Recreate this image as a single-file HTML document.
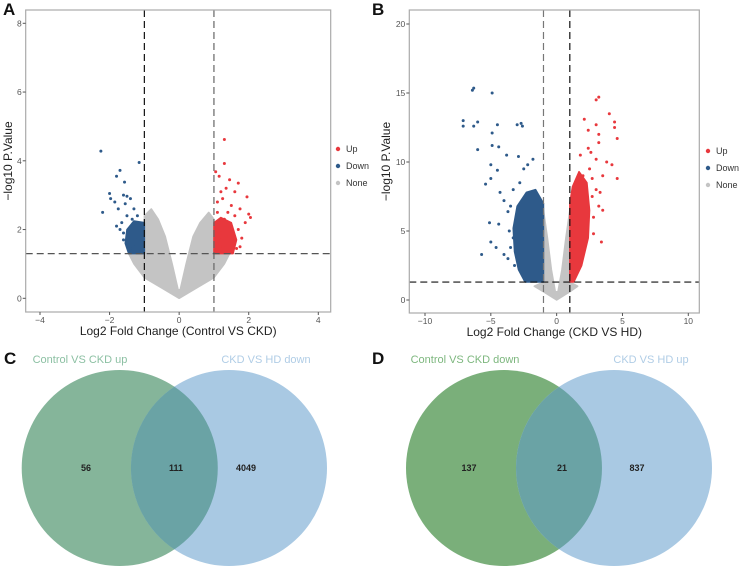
<!DOCTYPE html>
<html><head><meta charset="utf-8"><style>
body{margin:0;background:#fff;width:740px;height:569px;overflow:hidden;font-family:"Liberation Sans",Arial,sans-serif}
</style></head><body>
<svg id="svg" width="740" height="569" viewBox="0 0 740 569" xmlns="http://www.w3.org/2000/svg" font-family="Liberation Sans, Arial, sans-serif">
<g id="gA"></g>
<g id="gB"></g>
<g>
 <text x="4" y="364" font-size="17" font-weight="bold" fill="#111">C</text>
 <circle cx="119.7" cy="468" r="98" fill="#85b59a"/>
 <circle cx="229" cy="468" r="98" fill="#a9c9e3"/>
 <path d="M174.35 386.6 A98 98 0 0 1 174.35 549.4 A98 98 0 0 1 174.35 386.6Z" fill="#6aa3a5"/>
 <text x="80" y="363" font-size="11" text-anchor="middle" fill="#8cc0a3">Control VS CKD up</text>
 <text x="266" y="363" font-size="11" text-anchor="middle" fill="#b0cde6">CKD VS HD down</text>
 <text x="86" y="471" font-size="9" font-weight="bold" text-anchor="middle" fill="#222">56</text>
 <text x="176" y="471" font-size="9" font-weight="bold" text-anchor="middle" fill="#222">111</text>
 <text x="246" y="471" font-size="9" font-weight="bold" text-anchor="middle" fill="#222">4049</text>
</g>
<g>
 <text x="372" y="364" font-size="17" font-weight="bold" fill="#111">D</text>
 <circle cx="504" cy="468" r="98" fill="#7aaf7a"/>
 <circle cx="614" cy="468" r="98" fill="#a9c9e3"/>
 <path d="M559 386.9 A98 98 0 0 1 559 549.1 A98 98 0 0 1 559 386.9Z" fill="#6aa3a5"/>
 <text x="465" y="363" font-size="11" text-anchor="middle" fill="#7db77e">Control VS CKD down</text>
 <text x="651" y="363" font-size="11" text-anchor="middle" fill="#b0cde6">CKD VS HD up</text>
 <text x="469" y="471" font-size="9" font-weight="bold" text-anchor="middle" fill="#222">137</text>
 <text x="562" y="471" font-size="9" font-weight="bold" text-anchor="middle" fill="#222">21</text>
 <text x="637" y="471" font-size="9" font-weight="bold" text-anchor="middle" fill="#222">837</text>
</g>
</svg>
<script>
// Panel A data (log2FC, -log10 p)
const aXTicks=[-4,-2,0,2,4];
const aYTicks=[0,2,4,6,8];
const aNoneCloud=[[0,0],[-0.5,0.3],[-1.0,0.6],[-1.3,1.0],[-1.45,1.3],[-1.0,1.35],[-1.0,2.4],[-0.8,2.6],[-0.6,2.3],[-0.4,1.8],[-0.2,1.0],[-0.03,0.25],[0.03,0.25],[0.2,1.0],[0.4,1.8],[0.6,2.2],[0.85,2.5],[1.0,2.3],[1.0,1.35],[1.45,1.3],[1.3,1.0],[1.0,0.6],[0.5,0.3]];
const aDownCloud=[[-1,1.3],[-1.45,1.3],[-1.55,1.6],[-1.5,2.0],[-1.3,2.25],[-1.0,2.2]];
const aUpCloud=[[1,1.3],[1.55,1.3],[1.65,1.7],[1.5,2.2],[1.2,2.35],[1.0,2.2]];
const aDown=[[-2.25,4.28],[-1.15,3.95],[-1.7,3.72],[-1.8,3.55],[-1.57,3.38],[-2.0,3.05],[-1.97,2.9],[-1.6,3.0],[-1.5,2.97],[-2.2,2.5],[-1.85,2.8],[-1.75,2.6],[-1.55,2.75],[-1.4,2.9],[-1.3,2.6],[-1.2,2.4],[-1.65,2.2],[-1.8,2.1],[-1.5,2.4],[-1.35,2.3],[-1.7,2.0],[-1.6,1.9],[-1.45,1.8],[-1.25,1.9],[-1.1,2.1],[-1.5,1.6],[-1.3,1.5],[-1.2,1.7],[-1.1,1.4],[-1.4,1.45],[-1.6,1.7],[-1.05,1.8],[-1.15,1.55]];
const aUp=[[1.3,4.62],[1.3,3.92],[1.05,3.68],[1.15,3.55],[1.45,3.45],[1.7,3.35],[1.2,3.1],[1.35,3.2],[1.6,3.1],[1.95,2.95],[1.1,2.8],[1.25,2.9],[1.5,2.7],[1.75,2.6],[2.0,2.45],[2.05,2.35],[1.9,2.2],[1.1,2.5],[1.3,2.3],[1.4,2.5],[1.6,2.4],[1.15,2.2],[1.45,2.1],[1.7,2.0],[1.2,1.9],[1.35,1.8],[1.55,1.9],[1.8,1.75],[1.1,1.6],[1.25,1.5],[1.5,1.6],[1.65,1.45],[1.05,1.4],[1.4,1.35],[1.75,1.5],[1.2,1.7]];
// Panel B data
const bXTicks=[-10,-5,0,5,10];
const bYTicks=[0,5,10,15,20];
const bNoneCloud=[[0,0],[-1.0,0.6],[-1.7,1.0],[-1.0,1.3],[-1.0,6.5],[-0.7,4.5],[-0.4,2.2],[-0.1,0.6],[0.1,0.6],[0.4,2.2],[0.7,4.5],[1.0,6.5],[1.0,1.3],[1.6,1.0],[1.0,0.6]];
const bDownCloud=[[-1,1.3],[-2.4,1.3],[-2.9,2.2],[-3.2,3.5],[-3.3,5.2],[-3.0,6.8],[-2.3,7.8],[-1.6,8.0],[-1.0,7.0]];
const bUpCloud=[[1,1.3],[1.3,1.3],[1.9,2.5],[2.4,4.5],[2.5,6.5],[2.3,8.5],[1.7,9.3],[1.2,8.2],[1.0,7]];
const bDown=[[-6.3,15.35],[-6.4,15.2],[-4.9,15.0],[-7.1,13.0],[-7.1,12.6],[-6.0,12.9],[-6.3,12.6],[-4.5,12.7],[-3.0,12.7],[-2.7,12.8],[-2.6,12.6],[-4.9,12.1],[-4.9,11.2],[-4.4,11.1],[-6.0,10.9],[-3.8,10.5],[-2.9,10.4],[-5.0,9.8],[-4.5,9.4],[-5.0,8.8],[-5.4,8.4],[-4.3,7.8],[-4.0,7.2],[-3.5,6.8],[-3.7,6.4],[-5.1,5.6],[-4.4,5.5],[-5.0,4.2],[-4.6,3.8],[-4.0,3.3],[-3.7,3.0],[-5.7,3.3],[-3.2,2.5],[-3.5,3.8],[-2.5,9.5],[-2.2,9.8],[-1.8,10.2],[-3.3,8.0],[-2.8,8.5],[-3.6,5.0],[-3.3,4.5]];
const bUp=[[3.2,14.7],[3.0,14.5],[4.0,13.5],[2.1,13.1],[4.4,12.9],[4.4,12.5],[3.0,12.7],[2.4,12.3],[3.2,12.0],[3.2,11.4],[4.6,11.7],[2.4,11.0],[2.6,10.7],[1.8,10.5],[3.0,10.2],[3.8,10.0],[4.2,9.8],[4.6,8.8],[3.5,9.0],[3.0,8.0],[2.7,7.5],[3.2,6.8],[3.5,6.5],[2.8,6.0],[3.4,4.2],[2.8,4.8],[2.5,9.5],[2.0,9.0],[2.7,8.8],[3.3,7.8]];
const legendItems=['Up','Down','None'];

const NS='http://www.w3.org/2000/svg';
function mk(p,t,a){const e=document.createElementNS(NS,t);for(const k in a)e.setAttribute(k,a[k]);p.appendChild(e);return e;}
const COL={Up:'#e8383d',Down:'#2e5a8a',None:'#c4c4c4'};

function volcano(g,cfg){
  const X=v=>cfg.x0+(v-cfg.xa)*(cfg.x1-cfg.x0)/(cfg.xb-cfg.xa);
  const Y=v=>cfg.y0+(v-cfg.ya)*(cfg.y1-cfg.y0)/(cfg.yb-cfg.ya);
  const L=cfg.L,R=cfg.R,T=cfg.T,B=cfg.B;
  const t=mk(g,'text',{x:cfg.lx,y:15,'font-size':17,'font-weight':'bold',fill:'#111'});t.textContent=cfg.letter;
  
  
  const poly=(pts,c,n)=>{const p=mk(g,'polygon',{points:pts.map(q=>X(q[0])+','+Y(q[1])).join(' '),fill:c,stroke:c,'stroke-width':1.5,'stroke-linejoin':'round'});
    
    };
  poly(cfg.none,COL.None,'none-point-cloud');
  poly(cfg.downC,COL.Down,'down-point-cloud');
  poly(cfg.upC,COL.Up,'up-point-cloud');
  cfg.down.forEach(p=>{const c=mk(g,'circle',{cx:X(p[0]),cy:Y(p[1]),r:1.5,fill:COL.Down});
    
    });
  cfg.up.forEach(p=>{const c=mk(g,'circle',{cx:X(p[0]),cy:Y(p[1]),r:1.5,fill:COL.Up});
    
    });
  const dl=(x1,y1,x2,y2,c,n)=>{const l=mk(g,'line',{x1,y1,x2,y2,stroke:c,'stroke-width':1.2,'stroke-dasharray':'7,4'});
    
    };
  dl(X(-1),T,X(-1),B,cfg.c1,'threshold-line-neg');
  dl(X(1),T,X(1),B,cfg.c2,'threshold-line-pos');
  dl(L,Y(1.3),R,Y(1.3),cfg.c3,'threshold-line-p');
  const f=mk(g,'rect',{x:L,y:T,width:R-L,height:B-T,fill:'none',stroke:'#aaa','stroke-width':1.2});
  
  
  cfg.xt.forEach(v=>{mk(g,'line',{x1:X(v),x2:X(v),y1:B,y2:B+3,stroke:'#555'});
    const e=mk(g,'text',{x:X(v),y:B+11,'font-size':8.5,'text-anchor':'middle',fill:'#555'});e.textContent=v<0?'\u2212'+(-v):v;
    
    });
  cfg.yt.forEach(v=>{mk(g,'line',{x1:L-3,x2:L,y1:Y(v),y2:Y(v),stroke:'#555'});
    const e=mk(g,'text',{x:L-4,y:Y(v)+3,'font-size':8.5,'text-anchor':'end',fill:'#555'});e.textContent=v;
    
    });
  const xt=mk(g,'text',{x:(L+R)/2,y:B+23,'font-size':12,'text-anchor':'middle',fill:'#222'});xt.textContent=cfg.xtitle;
  
  
  const yt=mk(g,'text',{x:0,y:0,'font-size':12,'text-anchor':'middle',fill:'#222',transform:`translate(${cfg.ytx},${(T+B)/2}) rotate(-90)`});yt.textContent='\u2212log10 P.Value';
  
  
  legendItems.forEach((n,i)=>{const y=cfg.legY+i*17;
    const c=mk(g,'circle',{cx:cfg.legX,cy:y,r:2.2,fill:COL[n]});
    
    
    const e=mk(g,'text',{x:cfg.legX+8,y:y+3,'font-size':9,fill:'#333'});e.textContent=n;
    
    });
}
volcano(document.getElementById('gA'),{letter:'A',lx:3,L:25.7,R:330.7,T:10,B:312,x0:40,x1:318.3,xa:-4,xb:4,y0:298.3,y1:23.3,ya:0,yb:8,
  none:aNoneCloud,downC:aDownCloud,upC:aUpCloud,down:aDown,up:aUp,xt:aXTicks,yt:aYTicks,c1:'#111',c2:'#666',c3:'#555',
  xtitle:'Log2 Fold Change (Control VS CKD)',ytx:12,legX:338,legY:149});
volcano(document.getElementById('gB'),{letter:'B',lx:372,L:409.3,R:699.3,T:10,B:313,x0:425,x1:688.3,xa:-10,xb:10,y0:300,y1:24,ya:0,yb:20,
  none:bNoneCloud,downC:bDownCloud,upC:bUpCloud,down:bDown,up:bUp,xt:bXTicks,yt:bYTicks,c1:'#777',c2:'#111',c3:'#111',
  xtitle:'Log2 Fold Change (CKD VS HD)',ytx:390,legX:708,legY:151});
</script>
</body></html>
